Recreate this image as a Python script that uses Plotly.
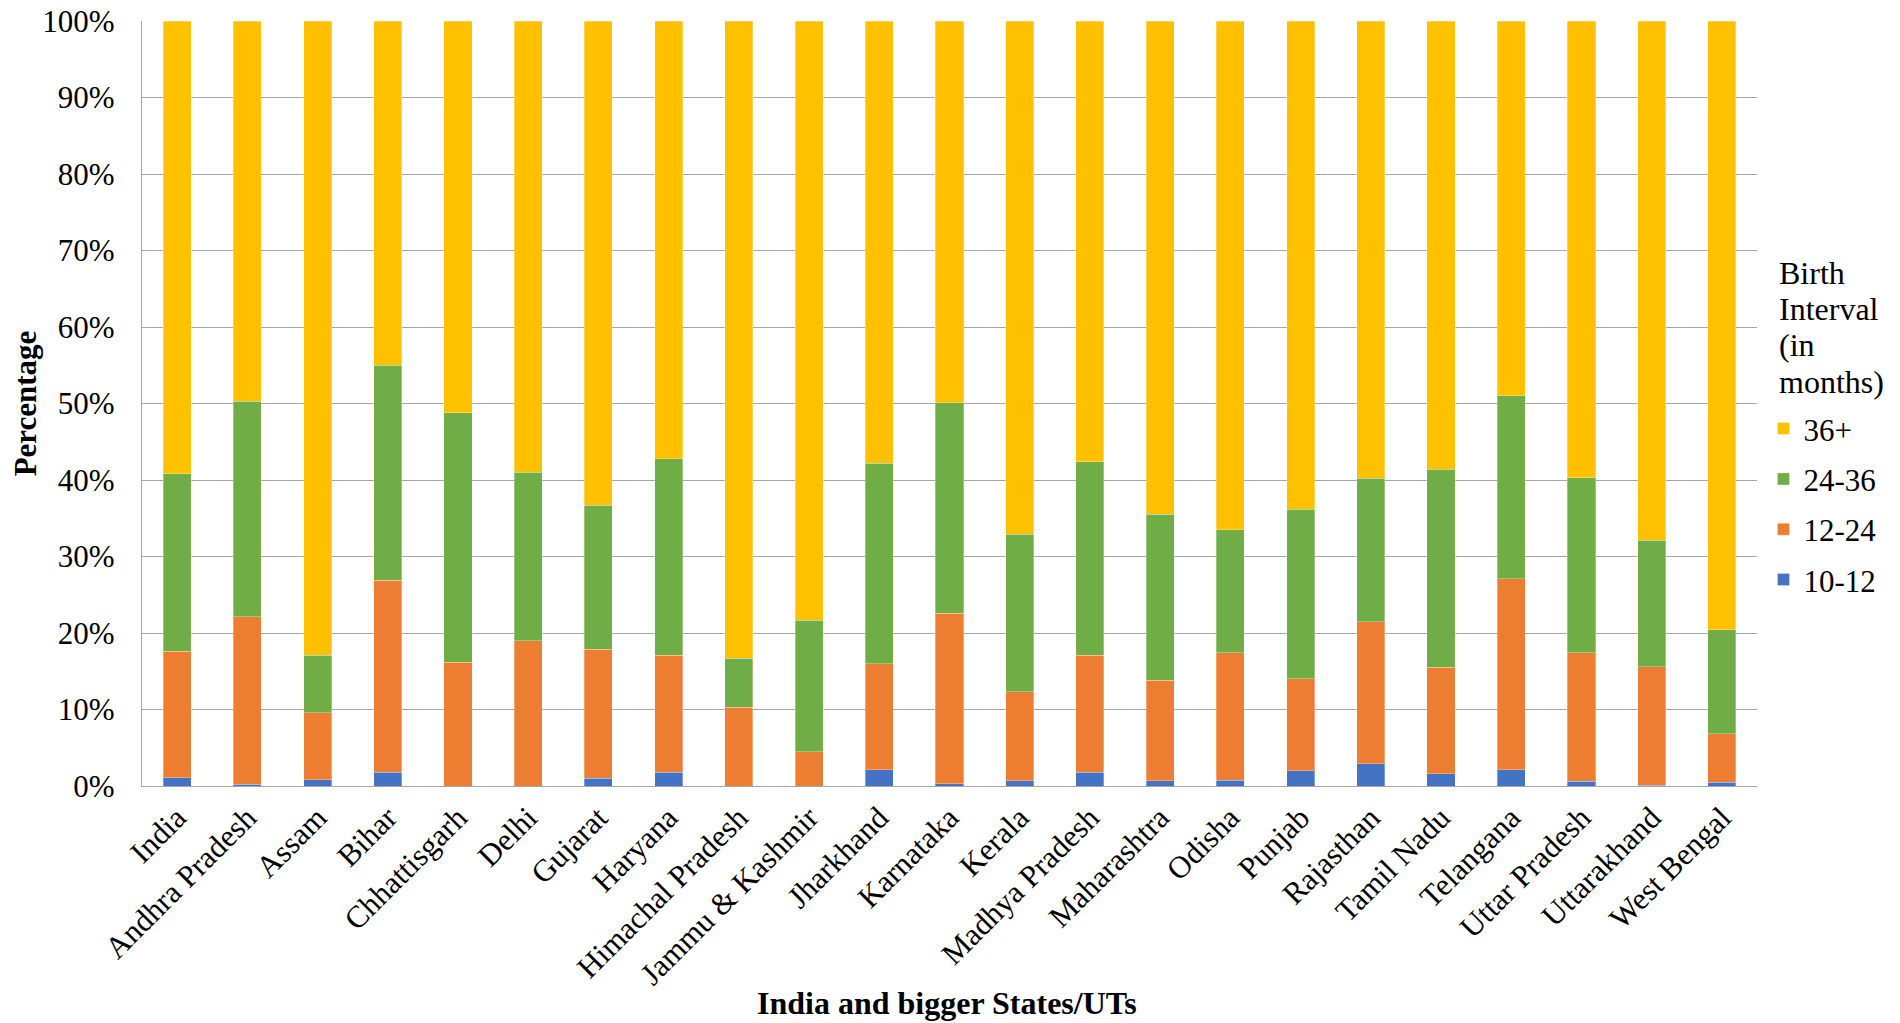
import plotly.graph_objects as go

states = ["India", "Andhra Pradesh", "Assam", "Bihar", "Chhattisgarh", "Delhi", "Gujarat",
          "Haryana", "Himachal Pradesh", "Jammu & Kashmir", "Jharkhand", "Karnataka", "Kerala",
          "Madhya Pradesh", "Maharashtra", "Odisha", "Punjab", "Rajasthan", "Tamil Nadu",
          "Telangana", "Uttar Pradesh", "Uttarakhand", "West Bengal"]

m10_12 = [1.1, 0.2, 0.8, 1.8, 0.0, 0.0, 1.0, 1.8, 0.0, 0.0, 2.1, 0.3, 0.7, 1.8, 0.7, 0.75,
          2.0, 2.9, 1.6, 2.1, 0.6, 0.1, 0.5]
m12_24 = [16.5, 21.9, 8.8, 25.1, 16.2, 19.0, 16.9, 15.3, 10.3, 4.5, 13.9, 22.3, 11.6, 15.3,
          13.1, 16.65, 12.0, 18.6, 13.9, 25.0, 16.8, 15.5, 6.3]
m24_36 = [23.2, 28.2, 7.5, 28.1, 32.6, 22.0, 18.8, 25.7, 6.4, 17.2, 26.2, 27.5, 20.6, 25.3,
          21.7, 16.1, 22.2, 18.7, 25.9, 23.9, 22.9, 16.5, 13.6]
m36_plus = [59.2, 49.7, 82.9, 45.0, 51.2, 59.0, 63.3, 57.2, 83.3, 78.3, 57.8, 49.9, 67.1,
            57.6, 64.5, 66.5, 63.8, 59.8, 58.6, 49.0, 59.7, 67.9, 79.6]

series = [("10-12", m10_12, "#4472C4"), ("12-24", m12_24, "#ED7D31"),
          ("24-36", m24_36, "#70AD47"), ("36+", m36_plus, "#FFC000")]

legend_title_lines = ["Birth", "Interval", "(in", "months)"]
x_title = "India and bigger States/UTs"
y_title = "Percentage"

FONT = "Liberation Serif"
FS = 31

fig = go.Figure()
n = len(series)
for i, (name, vals, col) in enumerate(series):
    fig.add_trace(go.Bar(x=states, y=vals, name=name, legendgroup=name,
                         legendrank=n - i, marker_color=col,
                         marker_line=dict(color="rgba(255,255,255,0.6)", width=0.5)))

# page body has an 8px margin, so plot-area margins are offset by -8
fig.update_layout(
    barmode="stack",
    bargap=0.6,
    width=1900, height=1023,
    paper_bgcolor="white", plot_bgcolor="white",
    margin=dict(l=134, r=151, t=13, b=245, autoexpand=False),
    font=dict(family=FONT, size=FS, color="black"),
    legend=dict(
        traceorder="grouped",
        x=1.004, xanchor="left", y=0.502, yanchor="top",
        font=dict(size=FS, family=FONT),
        tracegroupgap=7,
    ),
    showlegend=True,
)

# legend title drawn line by line (tighter line spacing than plotly's default)
title_y = [0.6711, 0.6235, 0.5761, 0.5285]
for line, yy in zip(legend_title_lines, title_y):
    fig.add_annotation(
        text=line, xref="paper", yref="paper", x=1.0124, y=yy,
        xanchor="left", yanchor="middle", align="left", showarrow=False,
        font=dict(size=32, family=FONT, color="black"),
    )

# x-axis title
fig.add_annotation(
    text=f"<b>{x_title}</b>", xref="paper", yref="paper", x=0.4985, y=-0.2837,
    xanchor="center", yanchor="middle", showarrow=False,
    font=dict(size=32, family=FONT, color="black"),
)

fig.update_yaxes(
    range=[0, 100], dtick=10, ticksuffix="%",
    showgrid=True, gridcolor="#A6A6A6", gridwidth=1.3,
    showline=True, linecolor="#A6A6A6", linewidth=1.3,
    zeroline=False, ticklabelstandoff=20, ticklabeloverflow="allow",
    tickfont=dict(size=FS, family=FONT),
    title=dict(text=f"<b>{y_title}</b>", font=dict(size=FS, family=FONT), standoff=14),
    automargin=False,
)
fig.update_xaxes(
    tickangle=-45, showgrid=False,
    showline=True, linecolor="#A6A6A6", linewidth=1.3,
    tickfont=dict(size=FS, family=FONT),
    ticklabelstandoff=0,
    automargin=False,
)

fig.write_html("out.html")
